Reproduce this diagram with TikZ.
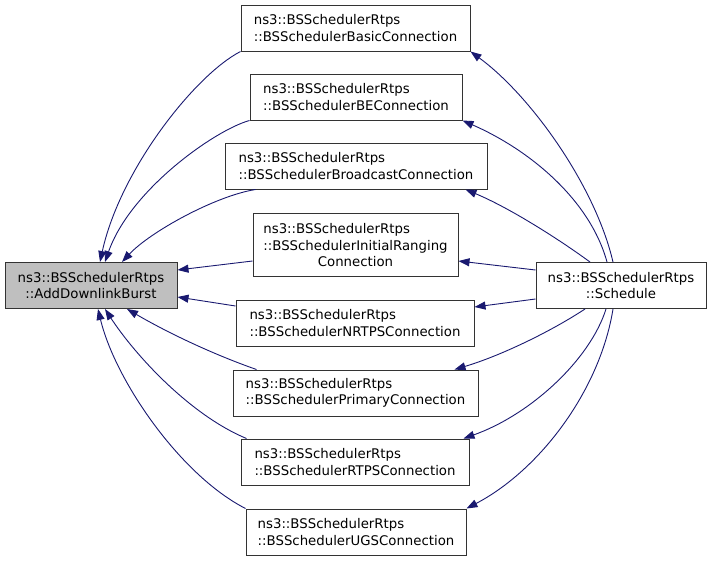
\documentclass[tikz,border=0pt]{standalone}
\usepackage{fontspec}
\setmainfont{DejaVu Sans}
\usetikzlibrary{arrows.meta,calc}
\definecolor{edgeblue}{RGB}{25,25,112}
\definecolor{boxgray}{RGB}{191,191,191}
\begin{document}
\begin{tikzpicture}[x=1pt,y=-1pt,
  box/.style={draw=black!80,line width=1pt,inner sep=0pt,minimum height=46pt,
    align=left,font=\fontsize{13.3}{16.5}\selectfont},
  cbox/.style={box,align=center},
  edge/.style={draw=edgeblue,line width=0.9pt,-{Triangle[length=11pt,width=8pt]},fill=none},
  ]
\useasboundingbox (0,0) rectangle (712,560);
\node[cbox,fill=boxgray,minimum width=172pt] (L) at (91,285.5) {ns3::BSSchedulerRtps\\::AddDownlinkBurst};
\node[cbox,minimum width=170pt] (S) at (621,285.5) {ns3::BSSchedulerRtps\\::Schedule};
\node[box,minimum width=229pt] (Basic) at (355.5,28) {ns3::BSSchedulerRtps\\::BSSchedulerBasicConnection};
\node[box,minimum width=212pt] (BE) at (356,97) {ns3::BSSchedulerRtps\\::BSSchedulerBEConnection};
\node[box,minimum width=262pt] (Broadcast) at (356,166) {ns3::BSSchedulerRtps\\::BSSchedulerBroadcastConnection};
\node[cbox,minimum width=205pt,minimum height=63pt] (IR) at (355.5,244.5) {\begin{tabular}{@{}l@{}}ns3::BSSchedulerRtps\\::BSSchedulerInitialRanging\end{tabular}\\Connection};
\node[box,minimum width=238pt] (NRTPS) at (355,323) {ns3::BSSchedulerRtps\\::BSSchedulerNRTPSConnection};
\node[box,minimum width=245pt] (Primary) at (355.5,393) {ns3::BSSchedulerRtps\\::BSSchedulerPrimaryConnection};
\node[box,minimum width=228pt] (RTPS) at (355,462) {ns3::BSSchedulerRtps\\::BSSchedulerRTPSConnection};
\node[box,minimum width=220pt] (UGS) at (356,532) {ns3::BSSchedulerRtps\\::BSSchedulerUGSConnection};
% left edges
\draw[edge] (Basic.south west) .. controls (195,75) and (120,170) .. ($(L.north)+(9,0)$);
\draw[edge] (BE.south west) .. controls (215,130) and (130,190) .. ($(L.north)+(14,0)$);
\draw[edge] ($(Broadcast.south west)+(31,0)$) .. controls (215,196) and (150,232) .. ($(L.north)+(31,0)$);
\draw[edge] ($(IR.west)+(0,16.5)$) -- ($(L.east)+(0,-15.5)$);
\draw[edge] ($(NRTPS.west)+(0,-17)$) -- ($(L.east)+(0,11.5)$);
\draw[edge] ($(Primary.north west)+(24,0)$) .. controls (215,355) and (170,334) .. ($(L.south)+(36,0)$);
\draw[edge] ($(RTPS.north west)+(6,0)$) .. controls (190,415) and (135,355) .. ($(L.south)+(14,0)$);
\draw[edge] (UGS.north west) .. controls (180,475) and (115,380) .. ($(L.south)+(7,0)$);
% right edges
\draw[edge] ($(S.north)+(-8,0)$) .. controls (595,185) and (530,95) .. (Basic.south east);
\draw[edge] ($(S.north)+(-14,0)$) .. controls (590,200) and (530,150) .. (BE.south east);
\draw[edge] ($(S.north)+(-31,0)$) .. controls (560,240) and (510,208) .. ($(Broadcast.south east)+(-22,0)$);
\draw[edge] ($(S.west)+(0,-15.5)$) -- ($(IR.east)+(0,16.5)$);
\draw[edge] ($(S.west)+(0,13.5)$) -- ($(NRTPS.east)+(0,-16)$);
\draw[edge] ($(S.south)+(-36,0)$) .. controls (550,332) and (500,356) .. ($(Primary.north east)+(-24,0)$);
\draw[edge] ($(S.south)+(-15,0)$) .. controls (590,360) and (530,415) .. ($(RTPS.north east)+(-6,0)$);
\draw[edge] ($(S.south)+(-8,0)$) .. controls (600,390) and (540,470) .. (UGS.north east);
\end{tikzpicture}
\end{document}
